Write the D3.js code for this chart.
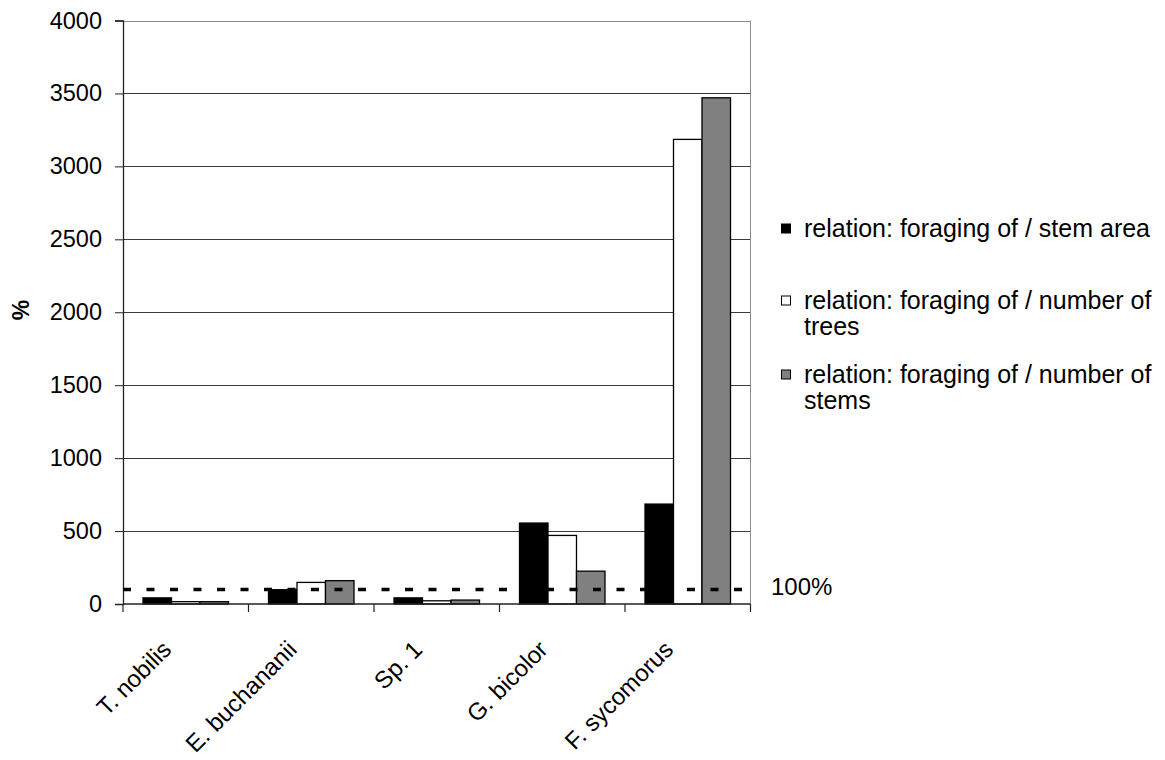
<!DOCTYPE html>
<html>
<head>
<meta charset="utf-8">
<script src="https://cdn.jsdelivr.net/npm/d3@7/dist/d3.min.js"></script>
<style>
  html, body { margin: 0; padding: 0; background: #fff; }
  svg { display: block; font-family: "Liberation Sans", Arial, Helvetica, sans-serif; }
</style>
</head>
<body>
<svg id="chart" width="1165" height="760"></svg>
<script>
// Tree species on the x axis
const species = ["T. nobilis", "E. buchananii", "Sp. 1", "G. bicolor", "F. sycomorus"];

// Relation of foraging to stem area, number of trees and number of stems (%)
const stemArea    = [42, 98, 42, 555, 685];
const numTrees    = [16, 148, 22, 470, 3185];
const numStems    = [16, 160, 27, 225, 3470];

const seriesNames = [
  "relation: foraging of / stem area",
  "relation: foraging of / number of trees",
  "relation: foraging of / number of stems"
];
const seriesFills = ["#000000", "#ffffff", "#808080"];

const yTicks = [0, 500, 1000, 1500, 2000, 2500, 3000, 3500, 4000];
const referenceLevel = 100;
const referenceLabel = "100%";

const series = [stemArea, numTrees, numStems];

const svg = d3.select("#chart");
const plot = { left: 123, right: 750.5, top: 20.5, bottom: 604 };

const x = d3.scaleBand().domain(species).range([plot.left, plot.right]).paddingInner(0).paddingOuter(0);
const y = d3.scaleLinear().domain([0, 4000]).range([plot.bottom, plot.top]);
const barW = 28.5;
const groupW = barW * series.length;

// horizontal gridlines
svg.append("g")
  .selectAll("line")
  .data(yTicks.filter(d => d > 0))
  .join("line")
  .attr("x1", plot.left).attr("x2", plot.right)
  .attr("y1", d => Math.round(y(d)) + 0.5).attr("y2", d => Math.round(y(d)) + 0.5)
  .attr("stroke", d => d === 4000 ? "#8c8c8c" : "#3a3a3a")
  .attr("stroke-width", 1);

// right frame edge
svg.append("line")
  .attr("x1", plot.right).attr("x2", plot.right)
  .attr("y1", plot.top).attr("y2", plot.bottom)
  .attr("stroke", "#8c8c8c").attr("stroke-width", 1);

// bars
const bars = svg.append("g");
series.forEach((vals, si) => {
  bars.selectAll(null)
    .data(vals.map((v, i) => ({ v, sp: species[i] })))
    .join("rect")
    .attr("x", d => x(d.sp) + (x.bandwidth() - groupW) / 2 + si * barW)
    .attr("y", d => y(d.v))
    .attr("width", barW)
    .attr("height", d => y(0) - y(d.v))
    .attr("fill", seriesFills[si])
    .attr("stroke", "#000")
    .attr("stroke-width", 1.3);
});

// y axis
const yAxis = d3.axisLeft(y).tickValues(yTicks).tickSize(8).tickPadding(13).tickFormat(d3.format("d"));
const gy = svg.append("g").attr("transform", `translate(${plot.left},0)`).call(yAxis);
gy.select(".domain").attr("stroke", "#222").attr("stroke-width", 1.3);
gy.selectAll(".tick line").attr("stroke", "#222");
gy.selectAll(".tick text").attr("font-size", 23.5).attr("fill", "#000")
  .attr("font-family", "'Liberation Sans', Arial, sans-serif");

// x axis: ticks at band boundaries
svg.append("line")
  .attr("x1", plot.left).attr("x2", plot.right)
  .attr("y1", plot.bottom).attr("y2", plot.bottom)
  .attr("stroke", "#222").attr("stroke-width", 1.3);
svg.append("g").selectAll("line")
  .data(species)
  .join("line")
  .attr("x1", d => x(d)).attr("x2", d => x(d))
  .attr("y1", plot.bottom).attr("y2", plot.bottom + 8)
  .attr("stroke", "#222").attr("stroke-width", 1.2);
svg.append("line")
  .attr("x1", plot.right).attr("x2", plot.right)
  .attr("y1", plot.bottom).attr("y2", plot.bottom + 8)
  .attr("stroke", "#222").attr("stroke-width", 1.2);

// rotated species labels
svg.append("g").selectAll("text")
  .data(species)
  .join("text")
  .attr("transform", d => `translate(${x(d) + x.bandwidth() / 2 - 13},${plot.bottom + 47}) rotate(-45)`)
  .attr("text-anchor", "end")
  .attr("font-size", 24)
  .text(d => d);

// reference line at 100 %
svg.append("line")
  .attr("x1", plot.left).attr("x2", plot.right)
  .attr("y1", y(referenceLevel)).attr("y2", y(referenceLevel))
  .attr("stroke", "#000").attr("stroke-width", 3.5)
  .attr("stroke-dasharray", "8,15.5");
svg.append("text")
  .attr("x", 771).attr("y", y(referenceLevel) + 6)
  .attr("font-size", 24)
  .text(referenceLabel);

// y axis title
svg.append("text")
  .attr("transform", "translate(29,310) rotate(-90)")
  .attr("text-anchor", "middle")
  .attr("font-size", 23)
  .attr("font-weight", "bold")
  .text("%");

// legend
const legendRows = [
  { lines: ["relation: foraging of / stem area"], y: 228.5 },
  { lines: ["relation: foraging of / number of", "trees"], y: 300.5 },
  { lines: ["relation: foraging of / number of", "stems"], y: 374.5 }
];
const lg = svg.append("g");
legendRows.forEach((row, i) => {
  lg.append("rect")
    .attr("x", 781.5).attr("y", row.y - 4.5)
    .attr("width", 9).attr("height", 9)
    .attr("fill", seriesFills[i]).attr("stroke", "#000").attr("stroke-width", 1);
  const t = lg.append("text").attr("x", 804).attr("y", row.y + 8.5).attr("font-size", 25);
  row.lines.forEach((ln, j) => {
    t.append("tspan").attr("x", 804).attr("dy", j === 0 ? 0 : 25.5).text(ln);
  });
});
</script>
</body>
</html>
